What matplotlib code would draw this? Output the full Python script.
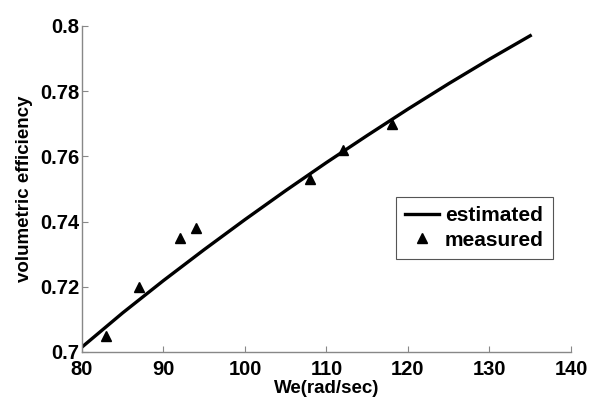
import numpy as np
import matplotlib.pyplot as plt
from matplotlib.ticker import FuncFormatter

# estimated curve
we_est = [80, 85, 90, 95, 100, 105, 110, 115, 120, 125, 130, 135]
eff_est = [0.7015, 0.7120, 0.7219, 0.7314, 0.7406, 0.7495, 0.7581, 0.7664, 0.7745, 0.7823, 0.7898, 0.7970]

# measured points
we_meas = [83, 87, 92, 94, 108, 112, 118]
eff_meas = [0.705, 0.720, 0.735, 0.738, 0.753, 0.762, 0.770]

plt.rcParams['font.family'] = ['Liberation Sans', 'DejaVu Sans']
plt.rcParams['font.weight'] = 'bold'

fig = plt.figure(figsize=(5.92, 4.05), dpi=100)
ax = fig.add_axes([0.1385, 0.131, 0.826, 0.805])

ax.plot(we_est, eff_est, color='black', lw=2.4, label='estimated')
ax.plot(we_meas, eff_meas, '^', color='black', markersize=7.5, label='measured')

ax.set_xlim(80, 140)
ax.set_ylim(0.7, 0.8)
ax.set_xticks(np.arange(80, 141, 10))
ax.set_yticks([0.7, 0.72, 0.74, 0.76, 0.78, 0.8])
ax.yaxis.set_major_formatter(FuncFormatter(lambda v, p: '%g' % round(v, 2)))

ax.spines['top'].set_visible(False)
ax.spines['right'].set_visible(False)
for s in ['left', 'bottom']:
    ax.spines[s].set_color('#888888')
    ax.spines[s].set_linewidth(1.0)
ax.tick_params(direction='in', length=4, color='#888888', labelsize=14.5)
ax.tick_params(axis='x', pad=6)
ax.tick_params(axis='y', pad=2)
for lab in ax.get_xticklabels() + ax.get_yticklabels():
    lab.set_fontweight('bold')

ax.set_xlabel('We(rad/sec)', fontsize=13.5, fontweight='bold', labelpad=0.5)
ax.set_ylabel('volumetric efficiency', fontsize=13.5, fontweight='bold', labelpad=5)

leg = ax.legend(loc='upper left', bbox_to_anchor=(0.642, 0.475), fancybox=False,
                framealpha=1, edgecolor='#555555', prop={'size': 15, 'weight': 'bold'},
                handlelength=1.6, handletextpad=0.3, borderpad=0.45, labelspacing=0.25,
                borderaxespad=0)
leg.get_frame().set_linewidth(0.8)

fig.savefig('out.png', dpi=100)
